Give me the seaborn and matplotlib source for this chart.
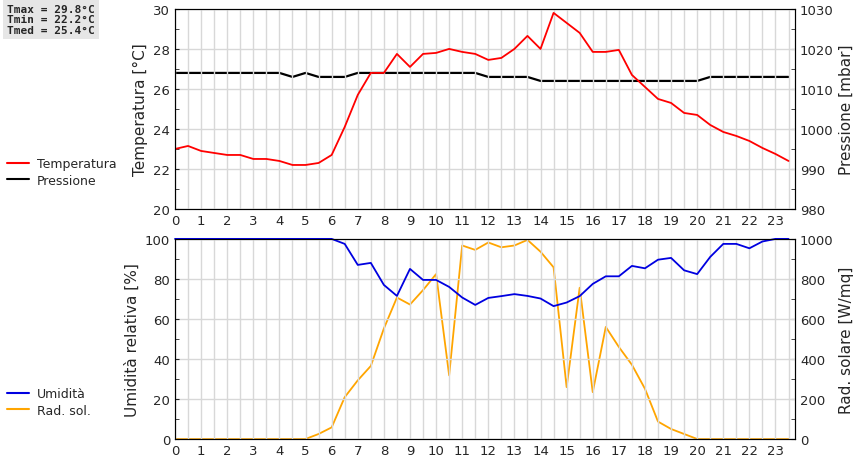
import numpy as np
import pandas as pd
import matplotlib
matplotlib.use('Agg')
import matplotlib.pyplot as plt
import seaborn as sns
from matplotlib.lines import Line2D

ore = [i * 0.5 for i in range(48)]
temperatura = [23.0, 23.15, 22.9, 22.8, 22.7, 22.7, 22.5, 22.5, 22.4, 22.2, 22.2, 22.3,
               22.7, 24.1, 25.7, 26.8, 26.8, 27.75, 27.1, 27.75, 27.8, 28.0, 27.85, 27.75,
               27.45, 27.55, 28.0, 28.65, 28.0, 29.8, 29.3, 28.8, 27.85, 27.85, 27.95, 26.7,
               26.1, 25.5, 25.3, 24.8, 24.7, 24.2, 23.85, 23.65, 23.4, 23.05, 22.75, 22.4]
pressione = [1014] * 9 + [1013, 1014] + [1013] * 3 + [1014] * 10 + [1013] * 4 + [1012] * 13 + [1013] * 7
umidita = [100] * 13 + [97.5, 87, 88, 77, 71.5, 85, 79.5, 79.5, 76, 70.7, 67, 70.5, 71.4,
           72.4, 71.5, 70.2, 66.4, 68.2, 71.4, 77.5, 81.3, 81.3, 86.5, 85.3, 89.6, 90.5, 84.3,
           82.4, 91, 97.5, 97.5, 95.3, 98.7, 100, 100]
rad_sol = [0] * 11 + [25, 58, 209, 293, 365, 552, 707, 672, 744, 824, 318, 967, 945, 982, 958,
           967, 995, 936, 858, 259, 756, 234, 560, 460, 371, 251, 87, 50, 25, 0] + [0] * 7

df = pd.DataFrame({'ora': ore, 'T': temperatura, 'P': pressione, 'U': umidita, 'R': rad_sol})

sns.set_style('white')
fig = plt.figure(figsize=(8.6, 4.6), dpi=100)
ax1 = fig.add_axes([0.2035, 0.5435, 0.721, 0.435])
ax2 = fig.add_axes([0.2035, 0.0435, 0.721, 0.435])


def style(ax):
    ax.set_xlim(0, 23.75)
    ax.set_xticks(range(24))
    ax.set_xticks(np.arange(0.5, 24, 1), minor=True)
    ax.grid(True, which='both', axis='x', color='#d8d8d8', lw=1)
    ax.grid(True, which='major', axis='y', color='#d8d8d8', lw=1)
    ax.set_axisbelow(True)
    ax.tick_params(labelsize=9.5, direction='in', length=3)
    ax.tick_params(which='minor', direction='in', length=3)
    ax.set_xlabel('')
    for s in ax.spines.values():
        s.set_color('black')


sns.lineplot(data=df, x='ora', y='T', color='red', lw=1.3, ax=ax1)
ax1.set_ylim(20, 30)
ax1.set_yticks(range(20, 31, 2))
ax1.set_yticks(range(21, 31, 2), minor=True)
ax1.set_ylabel('Temperatura [°C]', fontsize=11)
style(ax1)
ax1b = ax1.twinx()
sns.lineplot(data=df, x='ora', y='P', color='black', lw=1.6, ax=ax1b)
ax1b.set_ylim(980, 1030)
ax1b.set_yticks(range(980, 1031, 10))
ax1b.set_yticks(range(985, 1030, 10), minor=True)
ax1b.set_ylabel('Pressione [mbar]', fontsize=11)
ax1b.tick_params(labelsize=9.5, direction='in', length=3)
ax1b.tick_params(which='minor', direction='in', length=3)
ax1.set_zorder(ax1b.get_zorder() + 1)
ax1.patch.set_visible(False)

sns.lineplot(data=df, x='ora', y='U', color='#0000e0', lw=1.3, ax=ax2)
for ln in ax2.lines:
    ln.set_clip_on(False)
ax2.set_ylim(0, 100)
ax2.set_yticks(range(0, 101, 20))
ax2.set_yticks(range(10, 100, 20), minor=True)
ax2.set_ylabel('Umidità relativa [%]', fontsize=11)
style(ax2)
ax2b = ax2.twinx()
sns.lineplot(data=df, x='ora', y='R', color='orange', lw=1.3, ax=ax2b)
ax2b.set_ylim(0, 1000)
ax2b.set_yticks(range(0, 1001, 200))
ax2b.set_yticks(range(100, 1000, 200), minor=True)
ax2b.set_ylabel('Rad. solare [W/mq]', fontsize=11)
ax2b.tick_params(labelsize=9.5, direction='in', length=3)
ax2b.tick_params(which='minor', direction='in', length=3)
ax2.set_zorder(ax2b.get_zorder() + 1)
ax2.patch.set_visible(False)

fig.legend([Line2D([], [], color='red', lw=1.5), Line2D([], [], color='black', lw=1.5)],
           ['Temperatura', 'Pressione'], loc='upper left', bbox_to_anchor=(-0.005, 0.68),
           frameon=False, fontsize=9, handlelength=1.8, handletextpad=0.6, labelspacing=0.25)
fig.legend([Line2D([], [], color='#0000e0', lw=1.5), Line2D([], [], color='orange', lw=1.5)],
           ['Umidità', 'Rad. sol.'], loc='upper left', bbox_to_anchor=(-0.005, 0.18),
           frameon=False, fontsize=9, handlelength=1.8, handletextpad=0.6, labelspacing=0.25)

fig.text(0.008, 0.99, 'Tmax = 29.8°C\nTmin = 22.2°C\nTmed = 25.4°C', va='top', ha='left',
         family='DejaVu Sans Mono', fontsize=8, fontweight='bold', linespacing=1.1,
         bbox=dict(facecolor='#e6e6e6', edgecolor='none', pad=3))

fig.savefig('out.png', dpi=100)
